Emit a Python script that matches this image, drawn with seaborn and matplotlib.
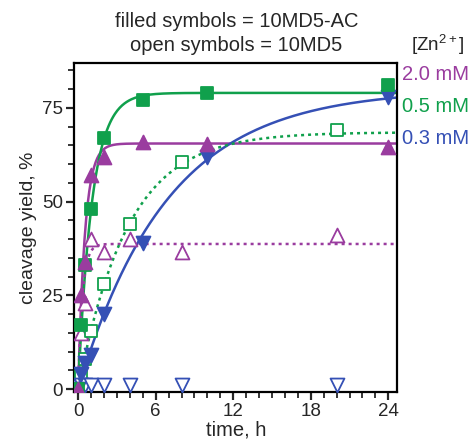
import numpy as np
import pandas as pd
import matplotlib
matplotlib.use("Agg")
import matplotlib.pyplot as plt
from matplotlib.ticker import MultipleLocator
import seaborn as sns

# ---- data ----
t_filled = [0, 0.25, 0.5, 1, 2, 5, 10, 24]
t_open = [0, 0.25, 0.5, 1, 2, 4, 8, 20]

ac_20 = [0, 25, 34, 57, 62, 66, 65.5, 64.5]     # 10MD5-AC, 2.0 mM (purple filled)
ac_05 = [0, 17, 33, 48, 67, 77, 79, 81]         # 10MD5-AC, 0.5 mM (green filled)
ac_03 = [0, 4, 7, 9, 20, 39, 62, 78]            # 10MD5-AC, 0.3 mM (blue filled)

md_20 = [0, 15, 23, 40, 36.5, 40, 36.5, 41]     # 10MD5, 2.0 mM (purple open)
md_05 = [0, 3.5, 8, 15.5, 28, 44, 60.5, 69]     # 10MD5, 0.5 mM (green open)
md_03 = [0.5, 1, 1, 1, 1, 1, 1, 1]              # 10MD5, 0.3 mM (blue open)

# fitted first-order curves (plateau %, k in 1/h) as drawn in the reference
fit_names = ["ac_20", "ac_05", "ac_03", "md_20", "md_05"]
fit_plateau = [65.5, 79.0, 80.0, 38.7, 68.5]
fit_k = [1.9, 0.93, 0.145, 3.0, 0.26]

conc_labels = ["2.0 mM", "0.5 mM", "0.3 mM"]

PURPLE = "#9a3c9f"
GREEN = "#10a04c"
BLUE = "#3550b5"

sns.set_theme(style="ticks")
plt.rcParams["font.family"] = ["Liberation Sans", "DejaVu Sans"]
plt.rcParams["mathtext.default"] = "regular"

fig = plt.figure(figsize=(4.73, 4.40), dpi=100)
ax = fig.add_axes([0.157, 0.109, 0.683, 0.748])

# fit curves
tt = np.linspace(0, 24.7, 400)
styles = {
    "ac_20": (PURPLE, "-"), "ac_05": (GREEN, "-"), "ac_03": (BLUE, "-"),
    "md_20": (PURPLE, (0, (1.2, 1.6))), "md_05": (GREEN, (0, (1.2, 1.6))),
}
for name, p, k in zip(fit_names, fit_plateau, fit_k):
    df = pd.DataFrame({"t": tt, "y": p * (1 - np.exp(-k * tt))})
    c, ls = styles[name]
    sns.lineplot(data=df, x="t", y="y", ax=ax, color=c, linestyle=ls,
                 linewidth=1.8, zorder=2)

def pts(t, y, marker, color, filled, size):
    df = pd.DataFrame({"t": t, "y": y})
    sns.scatterplot(data=df, x="t", y="y", ax=ax, marker=marker, s=size,
                    facecolor=color if filled else "white",
                    edgecolor=color, linewidth=1.3, zorder=3)

pts(t_open, md_20, "^", PURPLE, False, 100)
pts(t_open, md_05, "s", GREEN, False, 75)
pts(t_open, md_03, "v", BLUE, False, 100)
pts(t_filled, ac_03, "v", BLUE, True, 100)
pts(t_filled, ac_05, "s", GREEN, True, 75)
pts(t_filled, ac_20, "^", PURPLE, True, 100)

ax.set_xlim(-0.3, 24.7)
ax.set_ylim(-0.8, 87)
ax.xaxis.set_major_locator(MultipleLocator(6))
ax.xaxis.set_minor_locator(MultipleLocator(1))
ax.yaxis.set_major_locator(MultipleLocator(25))
ax.yaxis.set_minor_locator(MultipleLocator(5))
ax.tick_params(which="major", length=6, width=1.6, labelsize=13.5, pad=2)
ax.tick_params(which="minor", length=4, width=1.3)
for s in ax.spines.values():
    s.set_linewidth(1.6)
    s.set_color("black")

ax.set_xlabel("time, h", fontsize=14.5, labelpad=0)
ax.set_ylabel("cleavage yield, %", fontsize=14, labelpad=4)

fig.text(0.50, 0.952, "filled symbols = 10MD5-AC", ha="center", va="center", fontsize=14.5)
fig.text(0.50, 0.897, "open symbols = 10MD5", ha="center", va="center", fontsize=14.5)
fig.text(0.926, 0.897, "[Zn$^{2+}$]", ha="center", va="center", fontsize=13.5)
for lab, col, y in zip(conc_labels, [PURPLE, GREEN, BLUE], [0.830, 0.757, 0.686]):
    fig.text(0.849, y, lab, ha="left", va="center", fontsize=14.5, color=col)

fig.savefig("out.png", dpi=100)
